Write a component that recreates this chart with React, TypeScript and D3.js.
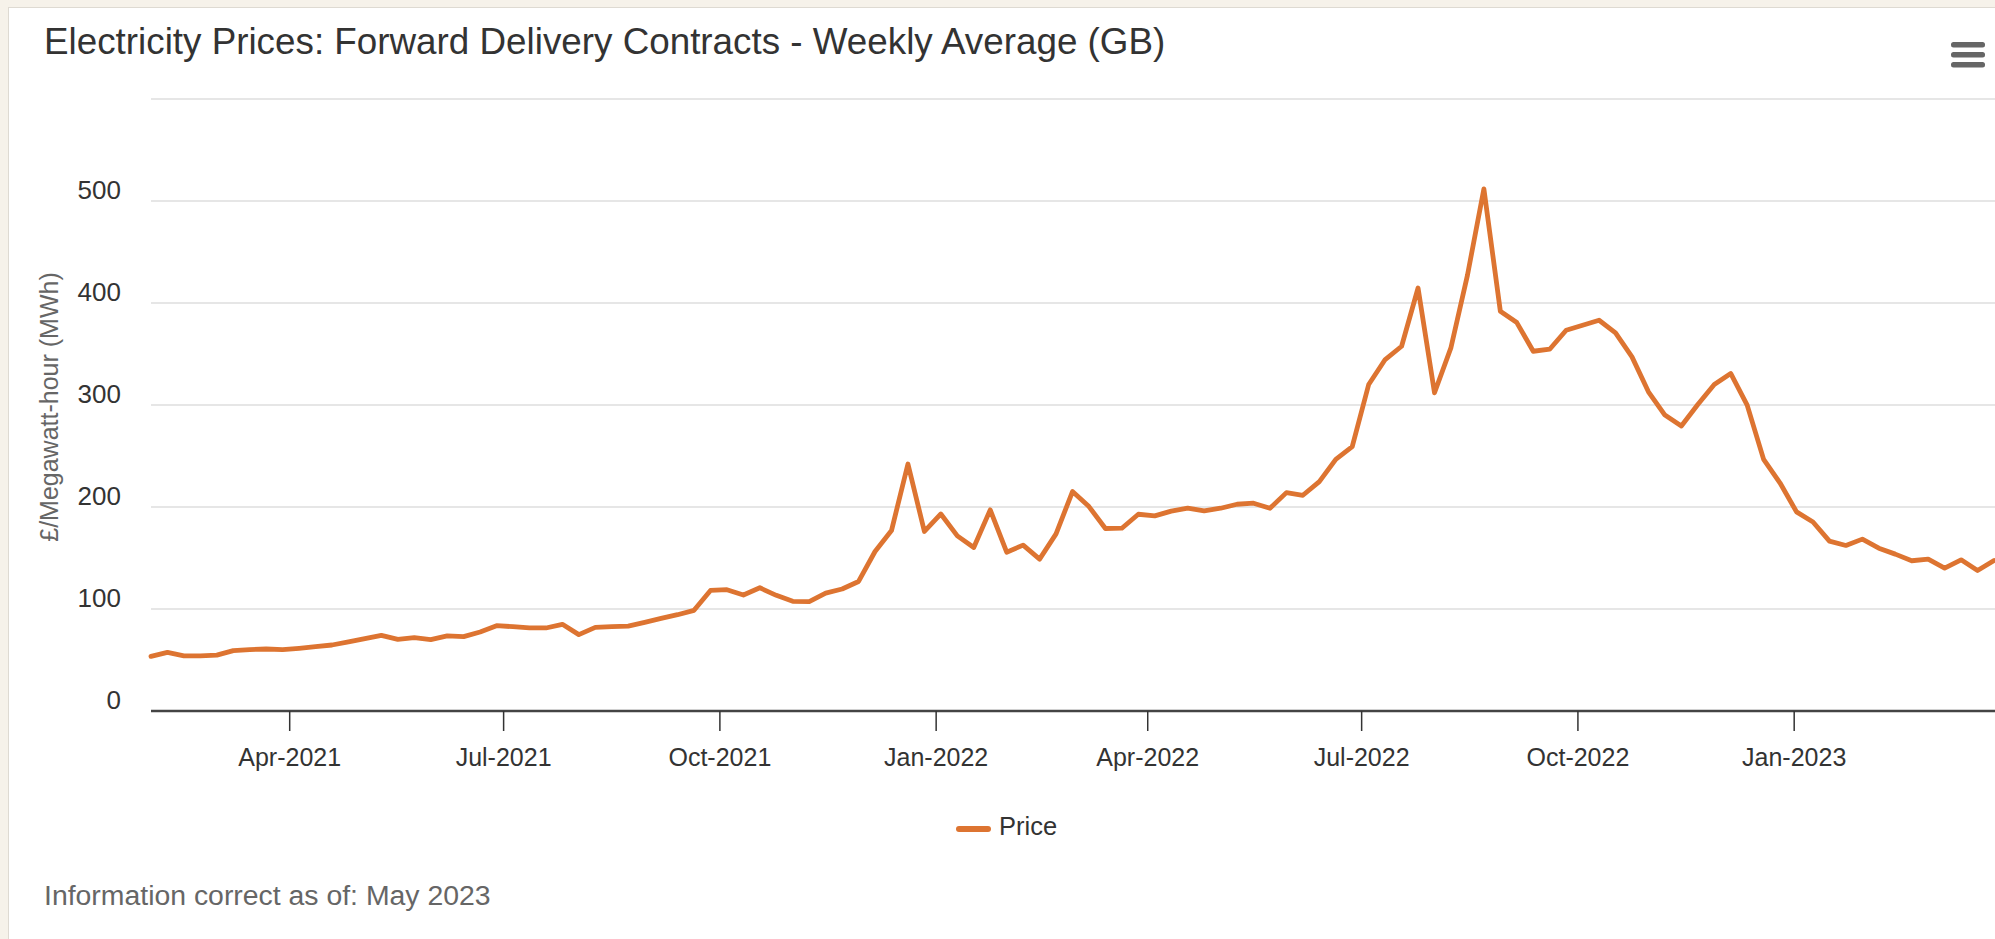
import React from 'react';
import * as d3 from 'd3';

const chartTitle = 'Electricity Prices: Forward Delivery Contracts - Weekly Average (GB)';
const yAxisTitle = '£/Megawatt-hour (MWh)';
const seriesName = 'Price';
const footnote = 'Information correct as of: May 2023';

// one value per week, first week starting Mon 1 Feb 2021
const firstWeek = '2021-02-01';
const prices = [
  53.6, 57.5, 54.1, 54.1, 54.8, 59.2, 60.2, 60.8, 60.2, 61.5, 63.1, 64.7, 67.7, 70.9, 74.2, 70.3,
  71.9, 70, 73.6, 72.9, 77.5, 83.6, 82.7, 81.4, 81.4, 85, 74.9, 82, 82.7, 83.3, 86.9, 90.8,
  94.4, 98.7, 118.2, 118.9, 113.7, 120.8, 113.4, 107.5, 107.2, 115.5, 119.6, 127, 156.4, 176.9,
  242.2, 176, 193.2, 171.7, 160.3, 197.2, 155.7, 162.6, 148.9, 173.7, 215.1, 200.4, 178.9, 179.2,
  192.9, 191.3, 196, 198.8, 196.2, 198.8, 202.7, 203.7, 198.8, 214.1, 211.5, 224.9, 246.7, 259.1,
  320.1, 344.6, 357.6, 414.7, 312, 356.3, 427.1, 511.9, 392, 380.8, 352.7, 354.7, 373.3, 378.2,
  383.1, 370.7, 347.2, 312.9, 290.1, 279.4, 300.5, 320.1, 330.9, 299.9, 246.7, 223.5, 195.2, 185.3,
  166.5, 162.3, 168.5, 159.6, 153.8, 147.3, 148.9, 140.1, 148.2, 137.8, 147.6,
];

const yTicks = [0, 100, 200, 300, 400, 500, 600];
const yTickLabels = ['0', '100', '200', '300', '400', '500'];
const xTickDates = [
  '2021-04-01', '2021-07-01', '2021-10-01', '2022-01-01',
  '2022-04-01', '2022-07-01', '2022-10-01', '2023-01-01',
];
const xTickLabels = [
  'Apr-2021', 'Jul-2021', 'Oct-2021', 'Jan-2022',
  'Apr-2022', 'Jul-2022', 'Oct-2022', 'Jan-2023',
];

const W = 1995;
const H = 939;
const font = '"Liberation Sans", Arial, Helvetica, sans-serif';
const orange = '#dd7431';

export default function App() {
  const start = new Date(firstWeek + 'T00:00:00Z');
  const dates = prices.map((_, i) => d3.utcDay.offset(start, 7 * i));

  const x = d3.scaleUtc()
    .domain([dates[0], dates[dates.length - 1]])
    .range([151, 1994]);
  const y = d3.scaleLinear().domain([0, 600]).range([711, 99]);

  const line = d3.line<number>()
    .x((_, i) => x(dates[i]))
    .y((d) => y(d));

  const plotLeft = x.range()[0];

  return (
    <div style={{ position: 'fixed', inset: 0, background: '#f6f2ea', overflow: 'hidden' }}>
      <svg width={W} height={H} style={{ display: 'block' }} fontFamily={font}>
        {/* card */}
        <rect x={8.5} y={7.5} width={W + 20} height={H + 20} fill="#fff" stroke="#dedad2" />

        <text x={44} y={54} fontSize={36.8} fill="#333">{chartTitle}</text>

        {/* menu icon */}
        {[42, 52, 62].map((yy) => (
          <rect key={yy} x={1951} y={yy} width={34} height={5.5} rx={2.5} fill="#666" />
        ))}

        {/* grid */}
        {yTicks.map((t) => (
          <line key={t} x1={plotLeft} x2={W} y1={y(t)} y2={y(t)} stroke="#e6e6e6" strokeWidth={2} />
        ))}
        {yTickLabels.map((lab, i) => (
          <text key={lab} x={121} y={y(yTicks[i]) - 2.5} fontSize={26} fill="#333" textAnchor="end">
            {lab}
          </text>
        ))}
        <text
          transform={`translate(58,${(y(0) + y(600)) / 2 + 2}) rotate(-90)`}
          fontSize={25}
          fill="#666"
          textAnchor="middle"
        >
          {yAxisTitle}
        </text>

        {/* x axis */}
        <line x1={plotLeft} x2={W} y1={y(0)} y2={y(0)} stroke="#444" strokeWidth={2.5} />
        {xTickDates.map((d, i) => {
          const xx = x(new Date(d + 'T00:00:00Z'));
          return (
            <g key={d}>
              <line x1={xx} x2={xx} y1={y(0)} y2={y(0) + 20} stroke="#333" strokeWidth={1.5} />
              <text x={xx} y={766} fontSize={25} fill="#333" textAnchor="middle">
                {xTickLabels[i]}
              </text>
            </g>
          );
        })}

        {/* series */}
        <path d={line(prices) ?? ''} fill="none" stroke={orange} strokeWidth={4.8} strokeLinejoin="round" strokeLinecap="round" />

        {/* legend */}
        <line x1={959} x2={988} y1={829} y2={829} stroke={orange} strokeWidth={6} strokeLinecap="round" />
        <text x={999} y={835} fontSize={25.5} fill="#333">{seriesName}</text>

        <text x={44} y={905} fontSize={28.4} fill="#666">{footnote}</text>
      </svg>
    </div>
  );
}
